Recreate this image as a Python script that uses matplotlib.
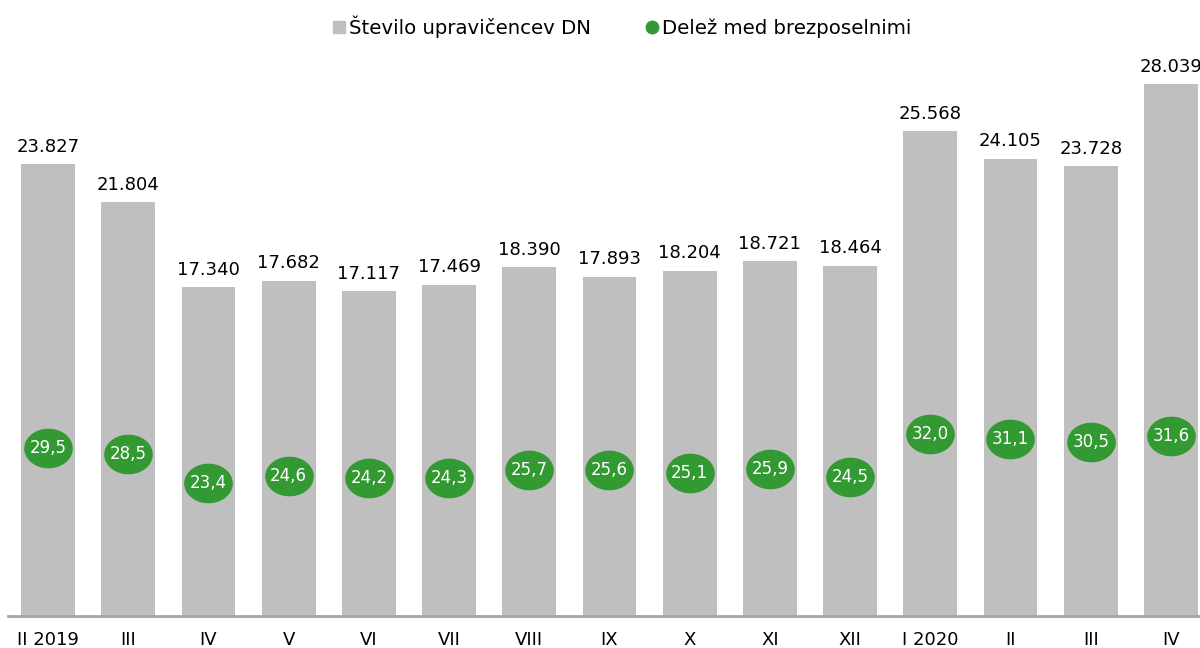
import numpy as np
import matplotlib
matplotlib.use("Agg")
import matplotlib.pyplot as plt
from matplotlib.path import Path
from matplotlib.lines import Line2D

plt.rcParams['font.family'] = ['DejaVu Sans']

categories = ["II 2019", "III", "IV", "V", "VI", "VII", "VIII", "IX", "X", "XI", "XII",
              "I 2020", "II", "III", "IV"]
upravicenci = [23827, 21804, 17340, 17682, 17117, 17469, 18390, 17893, 18204, 18721,
               18464, 25568, 24105, 23728, 28039]
delez = [29.5, 28.5, 23.4, 24.6, 24.2, 24.3, 25.7, 25.6, 25.1, 25.9, 24.5, 32.0, 31.1,
         30.5, 31.6]

bar_color = "#bfbfbf"
green = "#339933"

fig = plt.figure(figsize=(12, 6.48), dpi=100)
W, H = 1200, 648
left, right, bottom, top = 8, 8 + 15 * 80.2, 616, 47
ax = fig.add_axes([left / W, 1 - bottom / H, (right - left) / W, (bottom - top) / H])
x = np.arange(len(categories))
ax.bar(x, upravicenci, width=0.67, color=bar_color, zorder=2)
ax.set_xlim(-0.5, len(categories) - 0.5)
ax.set_ylim(0, 30000)
for xi, v in zip(x, upravicenci):
    s = f"{v:,}".replace(",", ".")
    ax.annotate(s, (xi, v), xytext=(0, 6), textcoords="offset points",
                ha="center", va="bottom", fontsize=13, color="#000000")
for sp in ["top", "right", "left"]:
    ax.spines[sp].set_visible(False)
ax.spines["bottom"].set_color("#a6a6a6")
ax.spines["bottom"].set_linewidth(2)
ax.set_yticks([])
ax.set_xticks(x)
ax.set_xticklabels(categories, fontsize=13)
ax.tick_params(axis="x", length=0, pad=11)

ax2 = ax.twinx()
ax2.set_ylim(0, 100)
ax2.set_yticks([])
for sp in ax2.spines.values():
    sp.set_visible(False)
t = np.linspace(0, 2 * np.pi, 60)
ell = Path(np.column_stack([np.cos(t), 0.81 * np.sin(t)]), closed=True)
ax2.plot(x, delez, linestyle="none", marker=ell, markersize=34,
         markerfacecolor=green, markeredgecolor=green, zorder=3)
for xi, v in zip(x, delez):
    ax2.text(xi, v, f"{v:.1f}".replace(".", ","), ha="center", va="center",
             fontsize=12, color="white", zorder=4)

handles = [Line2D([], [], linestyle="none", marker="s", markersize=8,
                  markerfacecolor=bar_color, markeredgecolor=bar_color),
           Line2D([], [], linestyle="none", marker="o", markersize=9,
                  markerfacecolor=green, markeredgecolor=green)]
fig.legend(handles, ["Število upravičencev DN", "Delež med brezposelnimi"],
           loc="center", bbox_to_anchor=(0.517, 1 - 27 / H), ncol=2, frameon=False,
           fontsize=14.2, handletextpad=0.0, columnspacing=2.6, handlelength=1.0)

fig.savefig("out.png", dpi=100)
